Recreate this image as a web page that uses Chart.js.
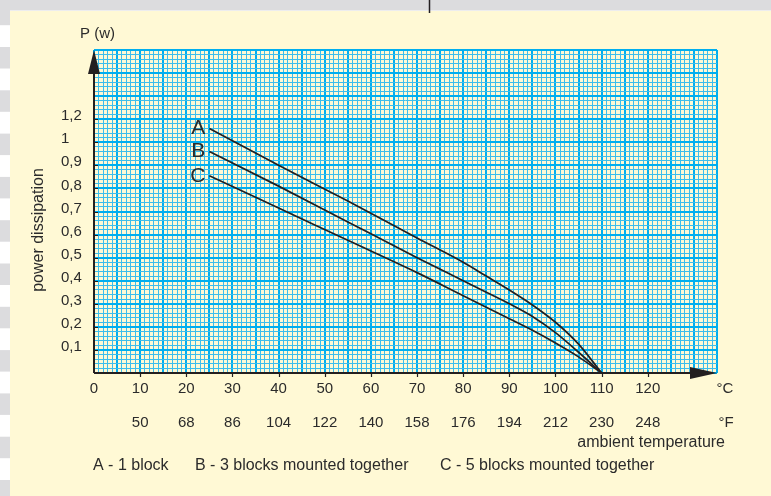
<!DOCTYPE html>
<html>
<head>
<meta charset="utf-8">
<title>Power dissipation vs ambient temperature</title>
<script src="https://cdn.jsdelivr.net/npm/chart.js@4.4.0/dist/chart.umd.min.js"></script>
<style>
  html, body { margin: 0; padding: 0; background: #fff9d5; }
  canvas { display: block; }
</style>
</head>
<body>
<canvas id="chart1" width="771" height="496"></canvas>
<script>
// Data
const tempC = [25, 40, 55, 70, 80, 85, 90, 95, 100, 105, 110];
const powerA = [1.06, 0.90, 0.745, 0.585, 0.48, 0.42, 0.36, 0.295, 0.22, 0.125, 0];
const powerB = [0.96, 0.81, 0.655, 0.50, 0.40, 0.35, 0.30, 0.245, 0.175, 0.09, 0];
const powerC = [0.855, 0.715, 0.575, 0.435, 0.335, 0.285, 0.235, 0.185, 0.13, 0.07, 0];

const curveNames = ['A', 'B', 'C'];
const legendTexts = ['A - 1 block', 'B - 3 blocks mounted together', 'C - 5 blocks mounted together'];

// Tick labels
const xTickValues = [0, 10, 20, 30, 40, 50, 60, 70, 80, 90, 100, 110, 120];
const xTickLabelsF = ['', '50', '68', '86', '104', '122', '140', '158', '176', '194', '212', '230', '248'];
const yTickValues = [0.1, 0.2, 0.3, 0.4, 0.5, 0.6, 0.7, 0.8, 0.9, 1.0, 1.1];
const yTickLabels = ['0,1', '0,2', '0,3', '0,4', '0,5', '0,6', '0,7', '0,8', '0,9', '1', '1,2'];

const INK = '#231f20';
const CREAM = '#fff9d5';
const FONT = '"Liberation Sans", Arial, sans-serif';

function toPoints(ys) {
    return tempC.map((x, i) => ({ x: x, y: ys[i] }));
}

// Page background: grey top band, striped left edge, cream sheet
const backgroundPlugin = {
    id: 'pageBackground',
    beforeDraw(chart) {
        const ctx = chart.ctx;
        ctx.save();
        ctx.fillStyle = '#ffffff';
        ctx.fillRect(0, 0, 771, 496);
        ctx.fillStyle = '#dcdcde';
        for (let y = 3.7; y < 496; y += 43.3) {
            ctx.fillRect(0, y, 10, 21.5);
        }
        ctx.fillRect(0, 0, 771, 10.5);
        ctx.fillStyle = CREAM;
        ctx.fillRect(10, 11, 761, 485);
        // small mark in the top band
        ctx.strokeStyle = INK;
        ctx.lineWidth = 1.5;
        ctx.beginPath();
        ctx.moveTo(429.5, 0);
        ctx.lineTo(429.5, 13);
        ctx.stroke();
        ctx.restore();
    }
};

// Axes, arrows, tick marks and all texts
const labelsPlugin = {
    id: 'axisLabels',
    afterDraw(chart) {
        const ctx = chart.ctx;
        const xs = chart.scales.x;
        const ys = chart.scales.y;
        const x0 = xs.getPixelForValue(0);
        const y0 = ys.getPixelForValue(0);
        const top = chart.chartArea.top;
        const right = chart.chartArea.right;
        ctx.save();

        // axis lines
        ctx.strokeStyle = INK;
        ctx.lineWidth = 2;
        ctx.beginPath();
        ctx.moveTo(x0, y0);
        ctx.lineTo(x0, top + 10);
        ctx.moveTo(x0, y0);
        ctx.lineTo(right - 10, y0);
        ctx.stroke();

        // arrow heads
        ctx.fillStyle = INK;
        ctx.beginPath();
        ctx.moveTo(x0, top);
        ctx.lineTo(x0 - 6, top + 24);
        ctx.lineTo(x0 + 6, top + 24);
        ctx.closePath();
        ctx.fill();
        ctx.beginPath();
        ctx.moveTo(right, y0);
        ctx.lineTo(right - 27, y0 - 6);
        ctx.lineTo(right - 27, y0 + 6);
        ctx.closePath();
        ctx.fill();

        // tick marks
        ctx.lineWidth = 1.2;
        ctx.beginPath();
        xTickValues.forEach(v => {
            if (v === 0) return;
            const px = Math.round(xs.getPixelForValue(v)) + 0.5;
            ctx.moveTo(px, y0);
            ctx.lineTo(px, y0 + 4);
        });
        yTickValues.forEach(v => {
            const py = Math.round(ys.getPixelForValue(v)) + 0.5;
            ctx.moveTo(x0, py);
            ctx.lineTo(x0 + 4, py);
        });
        ctx.stroke();

        ctx.fillStyle = '#2b2b2b';
        ctx.font = '15px ' + FONT;
        ctx.textBaseline = 'middle';

        // x tick labels (°C and °F rows)
        ctx.textAlign = 'center';
        xTickValues.forEach((v, i) => {
            const px = xs.getPixelForValue(v);
            ctx.fillText(String(v), px, 389);
            ctx.fillText(xTickLabelsF[i], px, 423);
        });
        ctx.fillText('°C', 725, 389);
        ctx.fillText('°F', 726, 423);

        // y tick labels
        ctx.textAlign = 'left';
        yTickValues.forEach((v, i) => {
            ctx.fillText(yTickLabels[i], 61, ys.getPixelForValue(v) - 3);
        });
        ctx.fillText('P (w)', 80, 34);

        ctx.font = '16px ' + FONT;
        ctx.textAlign = 'right';
        ctx.fillText('ambient temperature', 725, 443);

        // y axis title
        ctx.save();
        ctx.translate(39, 230);
        ctx.rotate(-Math.PI / 2);
        ctx.textAlign = 'center';
        ctx.fillText('power dissipation', 0, 0);
        ctx.restore();

        // legend line
        ctx.textAlign = 'left';
        ctx.fillText(legendTexts[0], 93, 466);
        ctx.fillText(legendTexts[1], 195, 466);
        ctx.fillText(legendTexts[2], 440, 466);

        // curve letters next to the start of each line
        ctx.font = '21px ' + FONT;
        ctx.textAlign = 'right';
        [powerA, powerB, powerC].forEach((ys2, i) => {
            const px = xs.getPixelForValue(tempC[0]) - 4;
            const py = ys.getPixelForValue(ys2[0]);
            ctx.fillText(curveNames[i], px, py);
        });

        ctx.restore();
    }
};

function lineDataset(label, values) {
    return {
        label: label,
        data: toPoints(values),
        borderColor: INK,
        borderWidth: 1.7,
        pointRadius: 0,
        showLine: true,
        fill: false,
        cubicInterpolationMode: 'monotone'
    };
}

const ctx = document.getElementById('chart1').getContext('2d');
const chart = new Chart(ctx, {
    type: 'scatter',
    data: {
        datasets: [
            lineDataset('A', powerA),
            lineDataset('B', powerB),
            lineDataset('C', powerC)
        ]
    },
    options: {
        responsive: false,
        animation: false,
        layout: {
            padding: { left: 94, top: 50, right: 54, bottom: 123 }
        },
        scales: {
            x: {
                type: 'linear',
                min: 0,
                max: 135,
                border: { display: false },
                ticks: { display: false, stepSize: 1 },
                grid: {
                    drawTicks: false,
                    color: ctx => (ctx.tick && ctx.tick.value % 5 === 0) ? '#00aeef' : '#3dbdec',
                    lineWidth: ctx => (ctx.tick && ctx.tick.value % 5 === 0) ? 2 : 1
                }
            },
            y: {
                type: 'linear',
                min: 0,
                max: 1.4,
                border: { display: false },
                ticks: { display: false, stepSize: 0.02 },
                grid: {
                    drawTicks: false,
                    color: ctx => (ctx.tick && Math.round(ctx.tick.value * 50) % 5 === 0) ? '#00aeef' : '#3dbdec',
                    lineWidth: ctx => (ctx.tick && Math.round(ctx.tick.value * 50) % 5 === 0) ? 2 : 1
                }
            }
        },
        plugins: {
            legend: { display: false },
            tooltip: { enabled: false }
        }
    },
    plugins: [backgroundPlugin, labelsPlugin]
});
</script>
</body>
</html>
